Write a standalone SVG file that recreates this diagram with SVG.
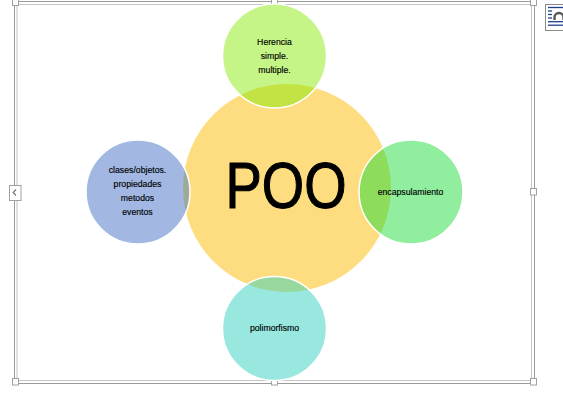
<svg xmlns="http://www.w3.org/2000/svg" width="563" height="406" viewBox="0 0 563 406">
<style>
  .lbl{font-family:"Liberation Sans",Arial,sans-serif;font-size:8.7px;fill:#000;text-anchor:middle;stroke:#000;stroke-width:0.15}
  .big{font-family:"Liberation Sans",Arial,sans-serif;font-size:64px;fill:#000;text-anchor:middle;stroke:#000;stroke-width:1.1}
  .ring{fill:none;stroke:#fff;stroke-width:1.5}
  .fo{fill:none;stroke:#9a9a9a;stroke-width:1}
  .fi{fill:none;stroke:#c4c4c4;stroke-width:1}
  .hd{fill:#fff;stroke:#a0a0a0;stroke-width:1}
  .ic{stroke:#1f3f8f;stroke-width:1.3}
</style>
<defs>
  <clipPath id="cTop"><circle cx="274.5" cy="56" r="52"/></clipPath>
  <clipPath id="cLeft"><circle cx="138" cy="192" r="52"/></clipPath>
  <clipPath id="cRight"><circle cx="411" cy="192" r="52"/></clipPath>
  <clipPath id="cBottom"><circle cx="274.5" cy="328.5" r="52"/></clipPath>
</defs>
<rect width="563" height="406" fill="#fff"/>

<g id="frame">
  <rect class="fo" x="14.5" y="1.5" width="520" height="382"/>
  <rect class="fi" x="17" y="4.5" width="514.5" height="376"/>
  <rect class="hd" x="12.5" y="-1" width="6" height="6.5"/>
  <rect class="hd" x="271.5" y="-1" width="6" height="6.5"/>
  <rect class="hd" x="530.5" y="-1" width="6" height="6.5"/>
  <rect class="hd" x="530.5" y="188.5" width="6" height="6.5"/>
  <rect class="hd" x="12.5" y="378.5" width="6" height="6.5"/>
  <rect class="hd" x="271.5" y="378.5" width="6" height="6.5"/>
  <rect class="hd" x="530.5" y="378.5" width="6" height="6.5"/>
  <rect class="hd" x="9.5" y="185.5" width="11.5" height="15"/>
  <path d="M16 189.5 L13.2 192.5 L16 195.5" fill="none" stroke="#777" stroke-width="1.2"/>
</g>

<g id="layout-icon">
  <rect x="545.5" y="4.5" width="20" height="26" fill="#fff" stroke="#8a8a8a" stroke-width="1"/>
  <line class="ic" x1="548" y1="7.5" x2="563" y2="7.5"/>
  <line class="ic" x1="548" y1="11" x2="552" y2="11"/>
  <line class="ic" x1="548" y1="14.5" x2="552" y2="14.5"/>
  <line class="ic" x1="548" y1="18" x2="552" y2="18"/>
  <line class="ic" x1="548" y1="21.7" x2="563" y2="21.7"/>
  <line class="ic" x1="548" y1="25.2" x2="563" y2="25.2"/>
  <path d="M554.5 20 V17.5 A4.5 4.5 0 0 1 563.5 17.5 V20" fill="none" stroke="#555" stroke-width="2.4"/>
</g>

<g id="connectors"/>

<g id="node-poo">
  <circle cx="287" cy="188" r="104" fill="#fedc80"/>
  <text class="big" x="286" y="207.5" textLength="121" lengthAdjust="spacingAndGlyphs">POO</text>
</g>

<g id="node-herencia">
  <circle cx="274.5" cy="56" r="52" fill="#c5f587"/>
  <circle cx="287" cy="188" r="104" fill="#c3e244" clip-path="url(#cTop)"/>
  <circle class="ring" cx="274.5" cy="56" r="52"/>
  <text class="lbl" x="274.5" y="45">Herencia</text>
  <text class="lbl" x="274.5" y="59">simple.</text>
  <text class="lbl" x="274.5" y="73">multiple.</text>
</g>

<g id="node-clases">
  <circle cx="138" cy="192" r="52" fill="#a2b8e2"/>
  <circle cx="287" cy="188" r="104" fill="#9ea99a" clip-path="url(#cLeft)"/>
  <circle class="ring" cx="138" cy="192" r="52"/>
  <text class="lbl" x="137.5" y="173">clases/objetos.</text>
  <text class="lbl" x="137.5" y="187">propiedades</text>
  <text class="lbl" x="137.5" y="201">metodos</text>
  <text class="lbl" x="137.5" y="215">eventos</text>
</g>

<g id="node-encapsulamiento">
  <circle cx="411" cy="192" r="52" fill="#90ee9e"/>
  <circle cx="287" cy="188" r="104" fill="#8edc5c" clip-path="url(#cRight)"/>
  <circle class="ring" cx="411" cy="192" r="52"/>
  <text class="lbl" x="410.5" y="195">encapsulamiento</text>
</g>

<g id="node-polimorfismo">
  <circle cx="274.5" cy="328.5" r="52" fill="#98e8e0"/>
  <circle cx="287" cy="188" r="104" fill="#98d89e" clip-path="url(#cBottom)"/>
  <circle class="ring" cx="274.5" cy="328.5" r="52"/>
  <text class="lbl" x="274.5" y="331">polimorfismo</text>
</g>
</svg>
